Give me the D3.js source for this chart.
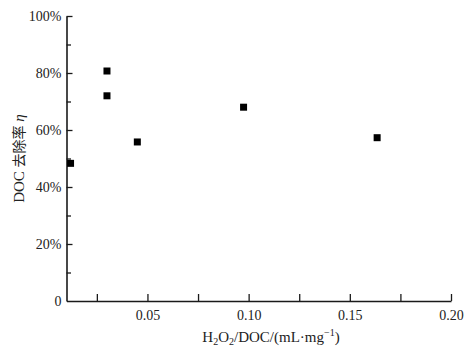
<!DOCTYPE html>
<html>
<head>
<meta charset="utf-8">
<script src="https://cdn.jsdelivr.net/npm/d3@7"></script>
<style>
  body { margin: 0; background: #fff; }
  svg text { font-family: "Liberation Serif", "DejaVu Serif", serif; fill: #222; }
</style>
</head>
<body>
<svg width="476" height="351"></svg>
<script>
// H2O2/DOC ratio vs DOC removal rate
const ratio = [0.012, 0.030, 0.030, 0.045, 0.0975, 0.1635];
const removal = [0.483, 0.807, 0.720, 0.558, 0.680, 0.573];
const xTicks = [0.025, 0.05, 0.075, 0.10, 0.125, 0.15, 0.175, 0.20];
const xLabels = [0.05, 0.10, 0.15, 0.20];
const yTicks = [0, 0.1, 0.2, 0.3, 0.4, 0.5, 0.6, 0.7, 0.8, 0.9, 1.0];
const yLabels = [0, 0.2, 0.4, 0.6, 0.8, 1.0];

var svg = d3.select("svg");
var mLeft = 66.5, mRight = 451, mTop = 16, mBottom = 301;

var x = d3.scaleLinear().domain([0.01, 0.20]).range([mLeft, mRight]);
var y = d3.scaleLinear().domain([0, 1]).range([mBottom, mTop]);

var axisColor = "#1a1a1a";
function isLabel(list, d) {
    return list.some(v => Math.abs(v - d) < 1e-9);
}

// x axis, ticks pointing inward
var xAxis = d3.axisBottom(x)
    .tickValues(xTicks)
    .tickSizeInner(-7)
    .tickSizeOuter(0)
    .tickPadding(9)
    .tickFormat(function (d) {
        return isLabel(xLabels, d) ? d3.format(".2f")(d) : "";
    });

var gx = svg.append("g")
    .attr("transform", "translate(0," + mBottom + ")")
    .call(xAxis);
gx.attr("font-size", 14).attr("font-family", null);
gx.select(".domain").attr("stroke", axisColor).attr("stroke-width", 1.6);
gx.selectAll(".tick line").attr("stroke", axisColor).attr("stroke-width", 1.3);
gx.selectAll(".tick text").attr("fill", "#222");

// y axis, ticks pointing inward
var yAxis = d3.axisLeft(y)
    .tickValues(yTicks)
    .tickSizeInner(-6)
    .tickSizeOuter(0)
    .tickPadding(5)
    .tickFormat(function (d) {
        if (!isLabel(yLabels, d)) return "";
        return d === 0 ? "0" : Math.round(d * 100) + "%";
    });

var gy = svg.append("g")
    .attr("transform", "translate(" + mLeft + ",0)")
    .call(yAxis);
gy.attr("font-size", 14).attr("font-family", null);
gy.select(".domain").attr("stroke", axisColor).attr("stroke-width", 1.6);
gy.selectAll(".tick line")
    .attr("stroke", axisColor)
    .attr("stroke-width", 1.3)
    .attr("x2", function (d) { return isLabel(yLabels, d) ? 6 : 4.5; });
gy.selectAll(".tick text").attr("fill", "#222");
gy.selectAll(".tick").filter(d => d === 0).select("line").remove();

// points
var size = 7;
svg.append("g")
    .selectAll("rect")
    .data(ratio)
    .enter().append("rect")
    .attr("x", (d) => x(d) - size / 2)
    .attr("y", (d, i) => y(removal[i]) - size / 2)
    .attr("width", size)
    .attr("height", size)
    .attr("fill", "#000");

// x label
var xl = svg.append("text")
    .attr("x", 271)
    .attr("y", 342)
    .attr("text-anchor", "middle")
    .attr("font-size", 15);
xl.append("tspan").text("H");
xl.append("tspan").attr("font-size", 10).attr("dy", 3).text("2");
xl.append("tspan").attr("dy", -3).text("O");
xl.append("tspan").attr("font-size", 10).attr("dy", 3).text("2");
xl.append("tspan").attr("dy", -3).text("/DOC/(mL·mg");
xl.append("tspan").attr("font-size", 10).attr("dy", -6).text("−1");
xl.append("tspan").attr("dy", 6).text(")");

// y label
var yl = svg.append("text")
    .attr("transform", "translate(24," + (mTop + mBottom) / 2 + ") rotate(-90)")
    .attr("text-anchor", "middle")
    .attr("font-size", 15);
yl.append("tspan").text("DOC ");
yl.append("tspan").attr("font-family", "Noto Sans CJK SC").attr("font-size", 14).text("去除率");
yl.append("tspan").attr("font-style", "italic").text(" η");
</script>
</body>
</html>
